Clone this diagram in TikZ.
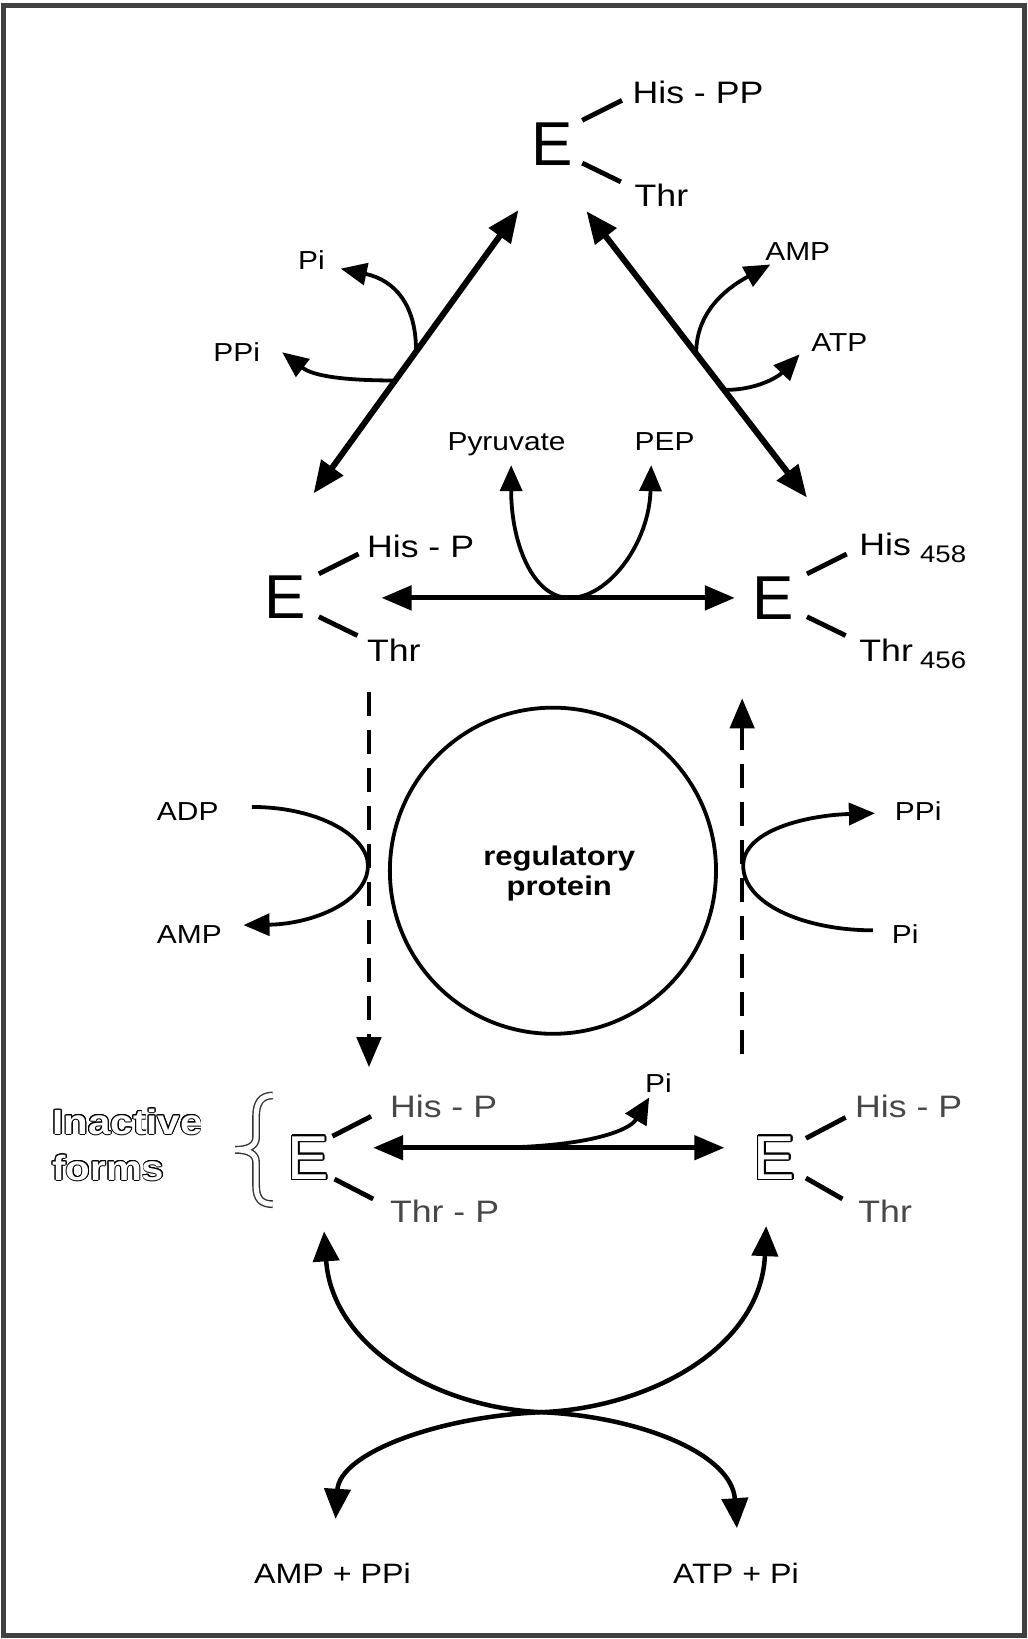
\documentclass[tikz,border=0pt]{standalone}
\usepackage{fontspec}
\setmainfont{Liberation Sans}[FakeStretch=1.15]
\newfontfamily\efont{Liberation Sans}
\usepackage{contour}
\contourlength{0.9pt}
\usetikzlibrary{arrows.meta}
\newcommand\hollowtext[1]{\textcolor{white}{\contour{black}{#1}}}
\newcommand\hollowE{{\contourlength{1.4pt}\textcolor{white}{\contour{black}{E}}}}
\tikzset{
  bigE/.style={font=\efont\fontsize{62}{62}\selectfont, inner sep=0pt, anchor=base},
  lab/.style={font=\fontsize{31}{31}\selectfont, inner sep=0pt, anchor=base west},
  labgray/.style={lab, text=black!72},
  subnum/.style={font=\fontsize{24}{24}\selectfont, inner sep=0pt, anchor=base west},
  small/.style={font=\fontsize{26}{26}\selectfont, inner sep=0pt, anchor=base west},
  bottomlab/.style={font=\fontsize{28}{28}\selectfont, inner sep=0pt, anchor=base},
  inact/.style={font=\bfseries\fontsize{35}{35}\selectfont, inner sep=0pt, anchor=base west},
  bond/.style={line width=4.8pt},
  bigarrow/.style={line width=6pt, {Triangle[length=32pt,width=26pt]}-{Triangle[length=32pt,width=26pt]}},
  midarrow/.style={line width=5pt, {Triangle[length=30pt,width=24pt]}-{Triangle[length=30pt,width=24pt]}},
  thinarrow/.style={line width=3.8pt, -{Triangle[length=26pt,width=22pt]}},
  dasharrow/.style={line width=4.5pt, dash pattern=on 24pt off 14pt, -{Triangle[length=30pt,width=24pt]}},
  arcarrow/.style={line width=4.5pt, {Triangle[length=30pt,width=26pt]}-{Triangle[length=30pt,width=26pt]}},
}
\begin{document}
\begin{tikzpicture}[x=1.0448pt, y=-1.0448pt]
\path[use as bounding box] (0,0) rectangle (983,1568);
\draw[line width=5pt, black!75] (3,5) rectangle (980,1565);

% ---------- top enzyme
\node[bigE] (Et) at (528,158) {E};
\node[lab] (EtHis) at (605,99) {His - PP};
\node[lab] (EtThr) at (607,198) {Thr};
\draw[bond] (557,115) -- (595,96);
\draw[bond] (557,156) -- (594,174);

% ---------- diagonals
\coordinate (dL1) at (300,472); \coordinate (dL2) at (496,201);
\draw[bigarrow] (dL1) -- (dL2);
\coordinate (dR1) at (561,202); \coordinate (dR2) at (772,476);
\draw[bigarrow] (dR1) -- (dR2);

\node[small] (tPi) at (285,258) {Pi};
\node[small] (tPPi) at (204,346) {PPi};
\node[small] (tAMP) at (732,249) {AMP};
\node[small] (tATP) at (776,336) {ATP};
\coordinate (sPi) at (398,335); \coordinate (ePi) at (326,257);
\coordinate (sPPi) at (378,364); \coordinate (ePPi) at (270,337);
\coordinate (sAMP) at (666,338); \coordinate (eAMP) at (737,253);
\coordinate (sATP) at (694,373); \coordinate (eATP) at (765,339);
\draw[thinarrow] (sPi) .. controls (398,292) and (378,268) .. (ePi);
\draw[thinarrow] (sPPi) .. controls (330,364) and (300,360) .. (ePPi);
\draw[thinarrow] (sAMP) .. controls (666,295) and (700,273) .. (eAMP);
\draw[thinarrow] (sATP) .. controls (725,373) and (745,360) .. (eATP);

% ---------- middle row
\node[bigE] (Eml) at (273,592) {E};
\node[lab] (EmlHis) at (351,533) {His - P};
\node[lab] (EmlThr) at (351,633) {Thr};
\draw[bond] (305,549) -- (343,530);
\draw[bond] (305,590) -- (342,608);

\node[bigE] (Emr) at (740,593) {E};
\node[lab] (EmrHis) at (822,531) {His};
\node[subnum] (EmrHisN) at (880,538) {458};
\node[lab] (EmrThr) at (822,633) {Thr};
\node[subnum] (EmrThrN) at (880,640) {456};
\draw[bond] (772,549) -- (810,530);
\draw[bond] (772,590) -- (809,608);

\coordinate (hL) at (365,572); \coordinate (hR) at (703,572);
\draw[midarrow] (hL) -- (hR);
\node[small] (pyr) at (428,431) {Pyruvate};
\node[small] (pep) at (607,431) {PEP};
\coordinate (hm) at (545,572);
\coordinate (ePyr) at (489,445); \coordinate (ePep) at (623,445);
\draw[thinarrow] (hm) .. controls (510,572) and (489,520) .. (ePyr);
\draw[thinarrow] (hm) .. controls (582,572) and (621,520) .. (ePep);

% ---------- regulatory protein
\node[draw, circle, line width=3.8pt, minimum size=326pt, inner sep=0pt] (reg) at (529,833) {};
\node[font=\bfseries\fontsize{27}{30}\selectfont, align=center, inner sep=0pt] (regtxt) at (535,836) {regulatory\\protein};

% ---------- dashed arrows
\coordinate (dl1) at (353,662); \coordinate (dl2) at (353,1021);
\coordinate (dr1) at (710,1008); \coordinate (dr2) at (710,668);
\draw[dasharrow] (dl1) -- (dl2);
\draw[dasharrow] (dr1) -- (dr2);

\node[small] (ADP) at (150,785) {ADP};
\node[small] (AMPm) at (150,903) {AMP};
\coordinate (sADP) at (241,772); \coordinate (eAMPm) at (233,885);
\draw[line width=3.8pt, -{Triangle[length=26pt,width=22pt]}] (sADP) .. controls (305,772) and (352,800) .. (352,828) .. controls (352,862) and (300,884) .. (eAMPm);

\node[small] (PPim) at (856,785) {PPi};
\node[small] (Pim) at (853,903) {Pi};
\coordinate (sPim) at (835,890); \coordinate (ePPim) at (837,778);
\draw[line width=3.8pt, -{Triangle[length=26pt,width=22pt]}] (sPim) .. controls (770,890) and (711,865) .. (711,828) .. controls (711,795) and (770,780) .. (ePPim);

% ---------- inactive forms
\node[inact] (inact1) at (50,1085) {\hollowtext{Inactive}};
\node[inact] (inact2) at (50,1129) {\hollowtext{forms}};
\draw[line width=1.4pt, black!80, double=white, double distance=5pt]
  (261,1048) .. controls (250,1048) and (245,1055) .. (245,1068) -- (245,1088)
  .. controls (245,1096) and (238,1100) .. (225,1100)
  .. controls (238,1100) and (245,1104) .. (245,1112) -- (245,1134)
  .. controls (245,1147) and (250,1152) .. (261,1152);

\node[bigE] (Ebl) at (295,1128) {\hollowE};
\node[labgray] (EblHis) at (373,1069) {His - P};
\node[labgray] (EblThr) at (373,1170) {Thr - P};
\draw[bond] (318,1087) -- (355,1068);
\draw[bond] (320,1128) -- (357,1147);

\node[bigE] (Ebr) at (741,1128) {\hollowE};
\node[labgray] (EbrHis) at (818,1069) {His - P};
\node[labgray] (EbrThr) at (821,1170) {Thr};
\draw[bond] (771,1089) -- (809,1069);
\draw[bond] (771,1127) -- (806,1147);

\coordinate (bL) at (357,1098); \coordinate (bR) at (693,1098);
\draw[line width=4.8pt, {Triangle[length=30pt,width=24pt]}-{Triangle[length=30pt,width=24pt]}] (bL) -- (bR);
\node[small] (bPi) at (617,1045) {Pi};
\coordinate (sbPi) at (465,1098); \coordinate (ebPi) at (621,1050);
\draw[line width=3.8pt, -{Triangle[length=26pt,width=24pt]}] (sbPi) .. controls (560,1098) and (602,1082) .. (ebPi);

% ---------- bottom crossing arcs
\coordinate (xm) at (518,1351);
\coordinate (ul) at (310,1178); \coordinate (ur) at (733,1173);
\coordinate (ll) at (321,1453); \coordinate (lr) at (705,1462);
\draw[arcarrow] (ul) .. controls (318,1290) and (420,1347) .. (xm) .. controls (620,1347) and (728,1290) .. (ur);
\draw[arcarrow] (ll) .. controls (325,1390) and (420,1355) .. (xm) .. controls (610,1355) and (700,1390) .. (lr);
\node[bottomlab] (amppp) at (318,1515) {AMP + PPi};
\node[bottomlab] (atppi) at (704,1515) {ATP + Pi};
\end{tikzpicture}
\end{document}
